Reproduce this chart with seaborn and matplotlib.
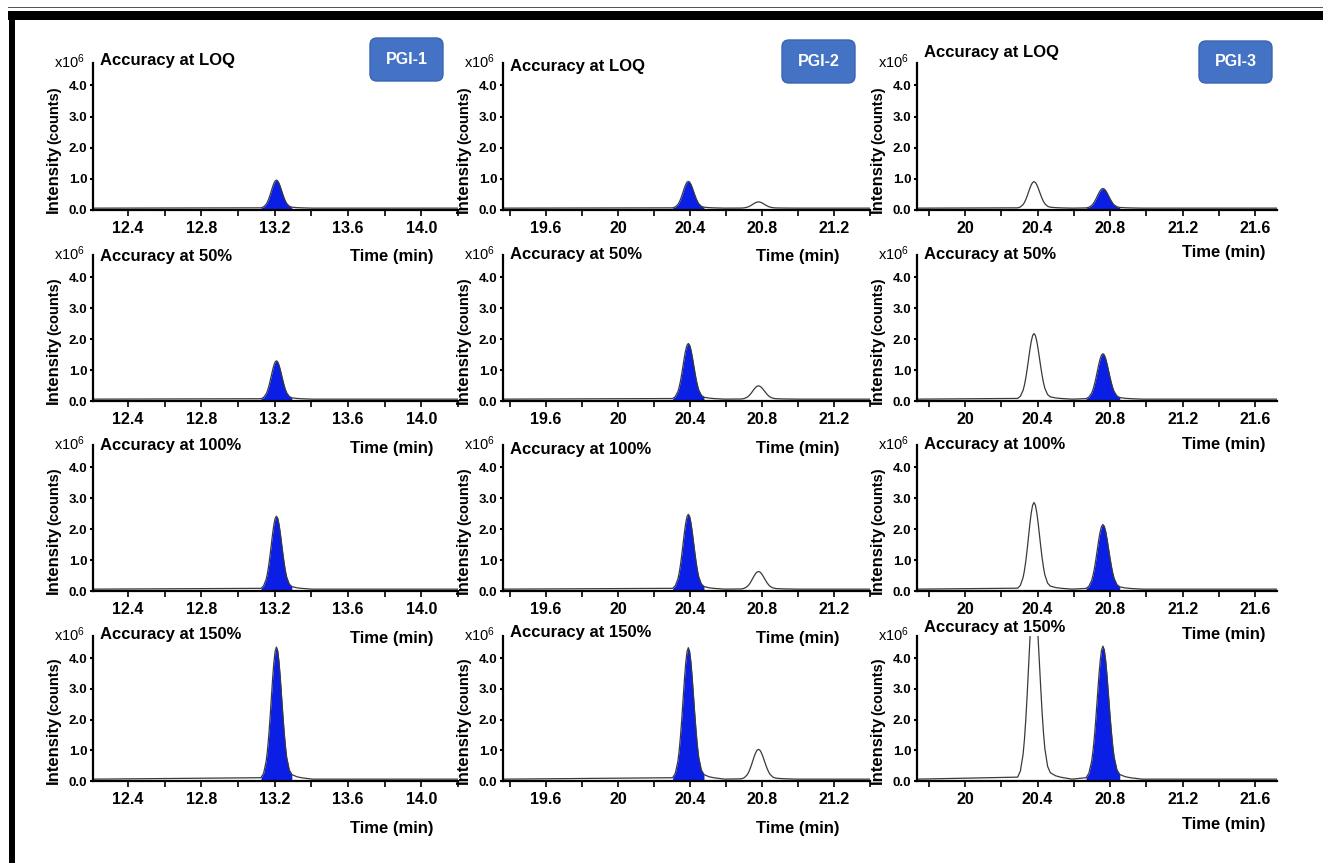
import numpy as np
import pandas as pd
import matplotlib
matplotlib.use('Agg')
import matplotlib.pyplot as plt
import seaborn as sns
from matplotlib.patches import FancyBboxPatch, Rectangle
from matplotlib.ticker import MultipleLocator

sns.set_style('white')
plt.rcParams['font.family'] = ['Liberation Sans', 'DejaVu Sans']
plt.rcParams['mathtext.fontset'] = 'custom'
plt.rcParams['mathtext.rm'] = 'Liberation Sans'
plt.rcParams['mathtext.default'] = 'regular'
plt.rcParams['text.color'] = 'black'
plt.rcParams['xtick.color'] = 'black'
plt.rcParams['ytick.color'] = 'black'

W, H = 1323, 863
BLUE = '#0a1ee6'
BADGE = '#4472c4'
TRACE = '#3a3a3a'

# ── data ──────────────────────────────────────────────────────────
ROW_TITLES = ['Accuracy at LOQ', 'Accuracy at 50%', 'Accuracy at 100%', 'Accuracy at 150%']
COMPOUNDS = ['PGI-1', 'PGI-2', 'PGI-3']
XLIMS = [(12.21, 14.20), (19.36, 21.40), (19.735, 21.72)]
XTICKS = [[12.4, 12.8, 13.2, 13.6, 14.0],
          [19.6, 20.0, 20.4, 20.8, 21.2],
          [20.0, 20.4, 20.8, 21.2, 21.6]]
XTICKLABELS = [['12.4', '12.8', '13.2', '13.6', '14.0'],
               ['19.6', '20', '20.4', '20.8', '21.2'],
               ['20', '20.4', '20.8', '21.2', '21.6']]
YTICKS = [0, 1, 2, 3, 4]
YMAX = 4.72
BASELINE = 0.06

# retention time (min), peak width (min), apex heights per row (x10^6 counts)
PGI1_RT, PGI1_W = 13.21, 0.028
PGI1_H = [0.90, 1.24, 2.36, 4.30]
PGI2_RT, PGI2_W = 20.39, 0.029
PGI2_H = [0.86, 1.80, 2.42, 4.28]
PGI2_OTHER_RT, PGI2_OTHER_W = 20.78, 0.032
PGI2_OTHER_H = [0.20, 0.43, 0.57, 0.97]
PGI3_OTHER_RT, PGI3_OTHER_W = 20.38, 0.030
PGI3_OTHER_H = [0.85, 2.12, 2.80, 6.00]
PGI3_RT, PGI3_W = 20.76, 0.031
PGI3_H = [0.63, 1.47, 2.09, 4.33]

# normalised peak outline (offset in peak widths, relative height)
PROFILE_DT = [-3.0, -2.5, -2.0, -1.75, -1.5, -1.25, -1.0, -0.75, -0.5, -0.25, 0.0,
              0.25, 0.5, 0.75, 1.0, 1.25, 1.5, 1.75, 2.0, 2.5, 3.0, 4.0, 5.0, 7.0]
PROFILE_REL = [0.011, 0.044, 0.135, 0.216, 0.325, 0.458, 0.607, 0.755, 0.882, 0.969, 1.0,
               0.972, 0.89, 0.77, 0.63, 0.49, 0.36, 0.25, 0.165, 0.07, 0.035, 0.018, 0.01, 0.0]

# (rt, width, heights, filled) for each column
PEAKS = [
    [(PGI1_RT, PGI1_W, PGI1_H, True)],
    [(PGI2_RT, PGI2_W, PGI2_H, True), (PGI2_OTHER_RT, PGI2_OTHER_W, PGI2_OTHER_H, False)],
    [(PGI3_OTHER_RT, PGI3_OTHER_W, PGI3_OTHER_H, False), (PGI3_RT, PGI3_W, PGI3_H, True)],
]

# ── layout (pixels) ───────────────────────────────────────────────
COL_L = [93, 503, 917]
COL_R = [458, 870, 1277]
ROW_T = [63, 255, 445, 636]
ROW_B = [210, 401, 591, 781]
TITLE_DY = [[3, -2, 0, 2], [-3, 1, -4, 4], [11, 1, 1, 9]]
XLAB_DX = [25, 30, 12]
XLAB_DY = [47, 47, 43]
BADGES = [(370, 38, 443, 81), (782, 40, 855, 83), (1199, 41, 1272, 83)]


def build_trace(xlim, peaks, row):
    t = [xlim[0]]
    y = [BASELINE]
    fills = []
    for rt, w, hs, filled in peaks:
        pt = [rt + d * w for d in PROFILE_DT]
        py = [BASELINE + hs[row] * r for r in PROFILE_REL]
        t += pt
        y += py
        if filled:
            keep = [i for i, d in enumerate(PROFILE_DT) if -3.0 <= d <= 3.0]
            fills.append(([pt[i] for i in keep], [py[i] for i in keep]))
    t.append(xlim[1])
    y.append(BASELINE)
    return pd.DataFrame({'time': t, 'intensity': y}), fills


fig = plt.figure(figsize=(W / 100, H / 100), dpi=100, facecolor='white')

label_texts = []
for c in range(3):
    for r in range(4):
        l, rr, t, b = COL_L[c], COL_R[c], ROW_T[r], ROW_B[r]
        ax = fig.add_axes([l / W, 1 - b / H, (rr - l) / W, (b - t) / H])
        ax.set_facecolor('none')
        df, fills = build_trace(XLIMS[c], PEAKS[c], r)
        for ft, fy in fills:
            ax.fill_between(ft, 0, fy, color=BLUE, lw=0, zorder=1)
        sns.lineplot(data=df, x='time', y='intensity', ax=ax, color=TRACE,
                     lw=0.9, estimator=None, sort=False, zorder=2)
        ax.set_xlim(*XLIMS[c])
        ax.set_ylim(0, YMAX)
        ax.set_xticks(XTICKS[c])
        ax.set_xticklabels(XTICKLABELS[c], fontsize=11.5, fontweight='bold')
        ax.xaxis.set_minor_locator(MultipleLocator(0.2))
        ax.set_yticks(YTICKS)
        ax.set_yticklabels([f'{v:.1f}' for v in YTICKS], fontsize=9.5, fontweight='bold')
        ax.tick_params(axis='x', which='both', direction='out', length=4, width=1.2,
                       pad=4, bottom=True, colors='black')
        ax.tick_params(axis='y', direction='out', length=2.5, width=1.5, pad=1.5,
                       left=True, colors='black')
        ax.set_xlabel('')
        ax.set_ylabel('')
        sns.despine(ax=ax)
        for s in ('left', 'bottom'):
            ax.spines[s].set_linewidth(1.6)
            ax.spines[s].set_color('black')

        ax.annotate(ROW_TITLES[r], xy=(0, 1), xycoords='axes fraction',
                    xytext=(7, TITLE_DY[c][r]), textcoords='offset pixels',
                    ha='left', va='center', fontsize=12, fontweight='bold')
        ax.annotate(r'x10$^{6}$', xy=(0, 1), xycoords='axes fraction',
                    xytext=(-8, 1), textcoords='offset pixels',
                    ha='right', va='center', fontsize=10.5)
        ax.annotate('Time (min)', xy=(1, 0), xycoords='axes fraction',
                    xytext=(-XLAB_DX[c], -XLAB_DY[c]), textcoords='offset pixels',
                    ha='right', va='center', fontsize=12, fontweight='bold')
        tx = fig.text((l - 35) / W, 1 - (b + 3) / H, 'Intensity', rotation=90,
                      rotation_mode='anchor', ha='left', va='baseline',
                      fontsize=12, fontweight='bold')
        label_texts.append((l, tx))

fig.canvas.draw()
for l, tx in label_texts:
    bb = tx.get_window_extent()
    fig.text((l - 35) / W, (bb.y1 + 1) / H, '(counts)', rotation=90,
             rotation_mode='anchor', ha='left', va='baseline',
             fontsize=10.5, fontweight='bold')

# compound badges
for name, (x0, y0, x1, y1) in zip(COMPOUNDS, BADGES):
    fig.patches.append(FancyBboxPatch((x0 / 100, (H - y1) / 100), (x1 - x0) / 100,
                                      (y1 - y0) / 100,
                                      boxstyle='round,pad=0,rounding_size=0.07',
                                      transform=fig.dpi_scale_trans,
                                      fc=BADGE, ec='#3a64b0', lw=1))
    fig.text((x0 + x1) / 2 / W, 1 - (y0 + y1) / 2 / H, name, color='white',
             ha='center', va='center', fontsize=11.5, fontweight='bold')

# frame around the figure
fig.patches.append(Rectangle((0.08, (H - 20) / 100), (W - 8) / 100, 0.09,
                             transform=fig.dpi_scale_trans, fc='black', ec='none'))
fig.patches.append(Rectangle((0.09, 0), 0.06, (H - 11) / 100,
                             transform=fig.dpi_scale_trans, fc='black', ec='none'))
fig.patches.append(Rectangle((0.08, (H - 8) / 100), (W - 8) / 100, 0.01,
                             transform=fig.dpi_scale_trans, fc='#555555', ec='none'))

fig.savefig('out.png', dpi=100, facecolor='white')
plt.close(fig)
